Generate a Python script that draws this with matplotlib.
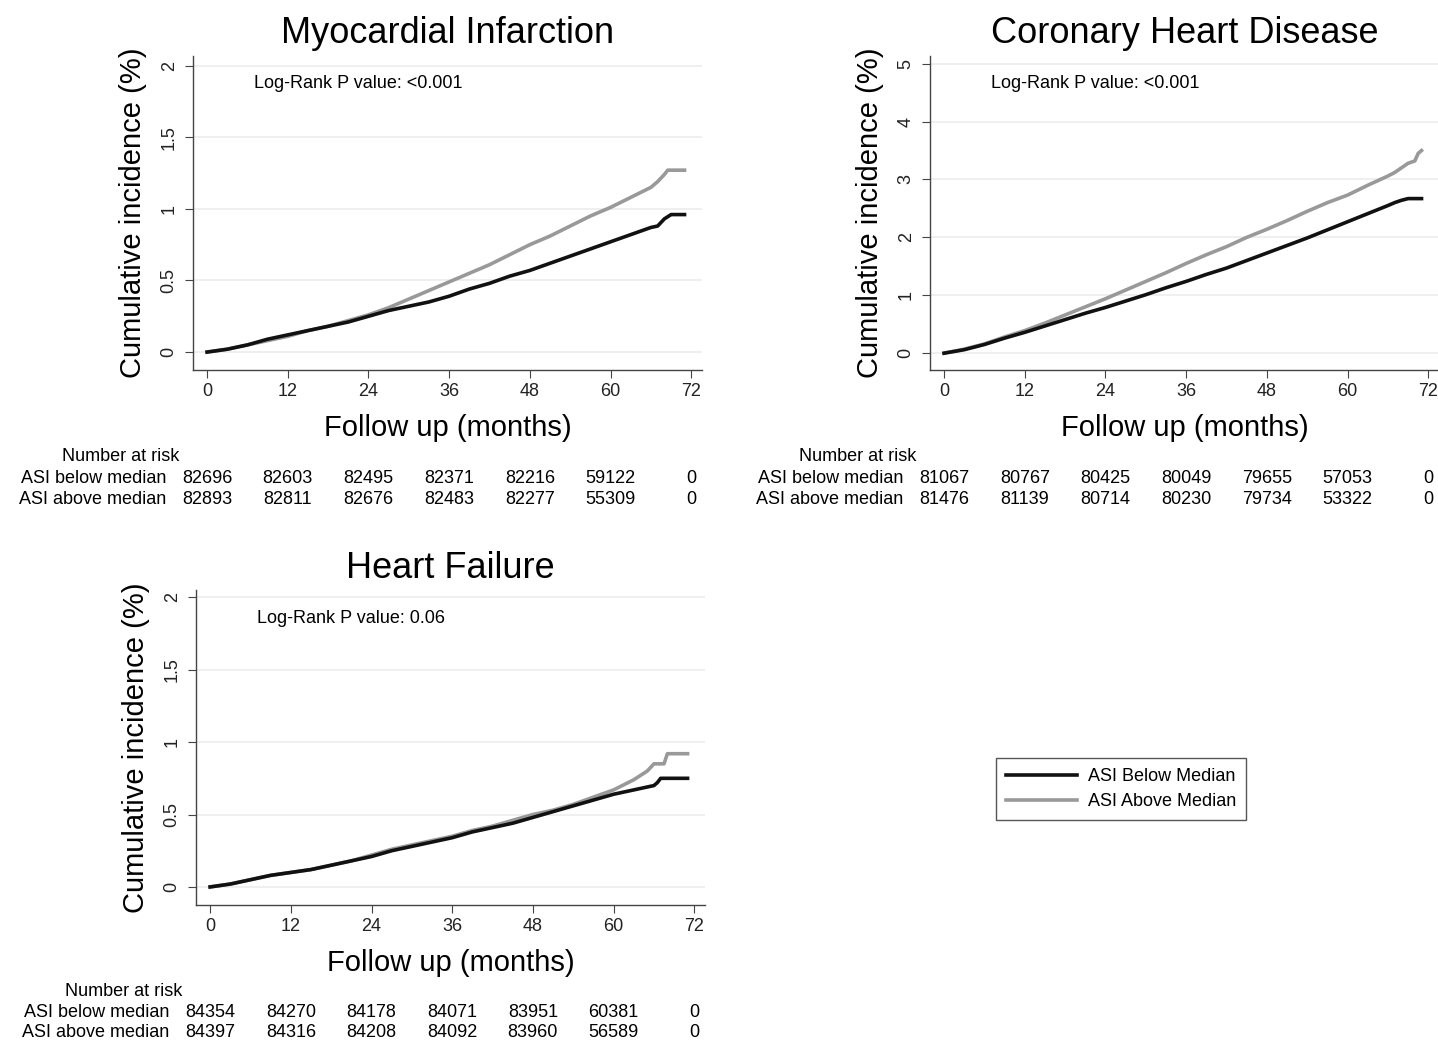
import matplotlib
matplotlib.use("Agg")
import matplotlib.pyplot as plt
import matplotlib.transforms as mtransforms
from matplotlib.lines import Line2D

plt.rcParams["font.family"] = ["Liberation Sans", "DejaVu Sans"]

# ---- data ----
# Myocardial infarction
mi_t_below = [0, 3, 6, 9, 12, 15, 18, 21, 24, 27, 30, 33, 36, 39, 42, 45, 48, 51, 54, 57, 60, 63, 66, 67, 68, 69, 71]
mi_below = [0, 0.02, 0.05, 0.09, 0.12, 0.15, 0.18, 0.21, 0.25, 0.29, 0.32, 0.35, 0.39, 0.44, 0.48, 0.53, 0.57,
            0.62, 0.67, 0.72, 0.77, 0.82, 0.87, 0.88, 0.93, 0.96, 0.96]
mi_t_above = [0, 3, 6, 9, 12, 15, 18, 21, 24, 27, 30, 33, 36, 39, 42, 45, 48, 51, 54, 57, 60, 63, 66, 67, 68, 68.5, 71]
mi_above = [0, 0.02, 0.05, 0.08, 0.11, 0.15, 0.18, 0.22, 0.26, 0.31, 0.37, 0.43, 0.49, 0.55, 0.61, 0.68, 0.75,
            0.81, 0.88, 0.95, 1.01, 1.08, 1.15, 1.19, 1.24, 1.27, 1.27]

# Coronary heart disease
chd_t_below = [0, 3, 6, 9, 12, 15, 18, 21, 24, 27, 30, 33, 36, 39, 42, 45, 48, 51, 54, 57, 60, 63, 66, 67, 68, 69, 71]
chd_below = [0, 0.06, 0.15, 0.26, 0.36, 0.47, 0.58, 0.69, 0.79, 0.9, 1.01, 1.13, 1.24, 1.36, 1.47, 1.6, 1.73,
             1.86, 1.99, 2.13, 2.27, 2.41, 2.55, 2.6, 2.64, 2.67, 2.67]
chd_t_above = [0, 3, 6, 9, 12, 15, 18, 21, 24, 27, 30, 33, 36, 39, 42, 45, 48, 51, 54, 57, 60, 63, 66, 67, 68,
               69, 70, 70.5, 71]
chd_above = [0, 0.07, 0.16, 0.28, 0.39, 0.52, 0.66, 0.8, 0.94, 1.09, 1.24, 1.39, 1.55, 1.7, 1.84, 2.0, 2.14,
             2.29, 2.45, 2.6, 2.73, 2.9, 3.06, 3.12, 3.2, 3.28, 3.32, 3.45, 3.5]

# Heart failure
hf_t_below = [0, 3, 6, 9, 12, 15, 18, 21, 24, 27, 30, 33, 36, 39, 42, 45, 48, 51, 54, 57, 60, 63, 66, 66.5, 67, 71]
hf_below = [0, 0.02, 0.05, 0.08, 0.1, 0.12, 0.15, 0.18, 0.21, 0.25, 0.28, 0.31, 0.34, 0.38, 0.41, 0.44, 0.48,
            0.52, 0.56, 0.6, 0.64, 0.67, 0.7, 0.72, 0.75, 0.75]
hf_t_above = [0, 3, 6, 9, 12, 15, 18, 21, 24, 27, 30, 33, 36, 39, 42, 45, 48, 51, 54, 57, 60, 63, 65, 66, 67.5,
              68, 71]
hf_above = [0, 0.02, 0.05, 0.08, 0.1, 0.12, 0.15, 0.18, 0.22, 0.26, 0.29, 0.32, 0.35, 0.39, 0.42, 0.46, 0.5,
            0.53, 0.57, 0.62, 0.67, 0.74, 0.8, 0.85, 0.85, 0.92, 0.92]

# number at risk
risk_months = [0, 12, 24, 36, 48, 60, 72]
mi_risk_below = [82696, 82603, 82495, 82371, 82216, 59122, 0]
mi_risk_above = [82893, 82811, 82676, 82483, 82277, 55309, 0]
chd_risk_below = [81067, 80767, 80425, 80049, 79655, 57053, 0]
chd_risk_above = [81476, 81139, 80714, 80230, 79734, 53322, 0]
hf_risk_below = [84354, 84270, 84178, 84071, 83951, 60381, 0]
hf_risk_above = [84397, 84316, 84208, 84092, 83960, 56589, 0]

x_ticks = [0, 12, 24, 36, 48, 60, 72]
y_ticks_small = [0, 0.5, 1, 1.5, 2]
y_labels_small = ["0", "0.5", "1", "1.5", "2"]
y_ticks_chd = [0, 1, 2, 3, 4, 5]
y_labels_chd = ["0", "1", "2", "3", "4", "5"]

BLACK = "#111111"
GRAY = "#999999"

fig = plt.figure(figsize=(14.38, 10.41), dpi=100)


def panel(rect, title, t_b, y_b, t_a, y_a, ylim, yticks, ylabels, pval, risk_b, risk_a, risk_y):
    ax = fig.add_axes(rect)
    ax.plot(t_b, y_b, color=BLACK, lw=2.6, zorder=3)
    ax.plot(t_a, y_a, color=GRAY, lw=2.6, zorder=2)
    ax.set_xlim(-2.1, 73.6)
    ax.set_ylim(*ylim)
    ax.set_xticks(x_ticks)
    ax.set_yticks(yticks)
    ax.set_yticklabels(ylabels, rotation=90, va="center")
    ax.tick_params(labelsize=13, length=6, color="#444444", labelcolor="#222222")
    ax.tick_params(axis="y", pad=5)
    ax.grid(axis="y", color="#ececec", lw=1.2)
    ax.set_axisbelow(True)
    for s in ["top", "right"]:
        ax.spines[s].set_visible(False)
    for s in ["left", "bottom"]:
        ax.spines[s].set_color("#444444")
        ax.spines[s].set_linewidth(1.0)
    ax.set_title(title, fontsize=26, pad=9)
    ax.set_xlabel("Follow up (months)", fontsize=21, labelpad=10)
    ax.set_ylabel("Cumulative incidence (%)", fontsize=21, labelpad=10)
    ax.text(0.12, 0.91, "Log-Rank P value: " + pval, transform=ax.transAxes, fontsize=13, va="center")

    # number at risk table under the axis
    tr = mtransforms.blended_transform_factory(ax.transData, fig.transFigure)
    tra = mtransforms.blended_transform_factory(ax.transAxes, fig.transFigure)
    fig.text(-0.142, risk_y[0], "Number at risk", transform=tra, fontsize=13, ha="center", va="center")
    fig.text(-0.053, risk_y[1], "ASI below median", transform=tra, fontsize=13, ha="right", va="center")
    fig.text(-0.053, risk_y[2], "ASI above median", transform=tra, fontsize=13, ha="right", va="center")
    for m, nb, na in zip(risk_months, risk_b, risk_a):
        fig.text(m, risk_y[1], str(nb), transform=tr, fontsize=13, ha="center", va="center")
        fig.text(m, risk_y[2], str(na), transform=tr, fontsize=13, ha="center", va="center")
    return ax


panel([0.1342, 0.6446, 0.354, 0.302], "Myocardial Infarction", mi_t_below, mi_below, mi_t_above, mi_above,
      (-0.125, 2.07), y_ticks_small, y_labels_small, "<0.001",
      mi_risk_below, mi_risk_above, [0.561, 0.5405, 0.5205])
panel([0.6467, 0.6446, 0.354, 0.302], "Coronary Heart Disease", chd_t_below, chd_below, chd_t_above, chd_above,
      (-0.29, 5.14), y_ticks_chd, y_labels_chd, "<0.001",
      chd_risk_below, chd_risk_above, [0.561, 0.5405, 0.5205])
panel([0.1363, 0.1306, 0.354, 0.3026], "Heart Failure", hf_t_below, hf_below, hf_t_above, hf_above,
      (-0.125, 2.05), y_ticks_small, y_labels_small, "0.06",
      hf_risk_below, hf_risk_above, [0.048, 0.0278, 0.0078])

handles = [Line2D([], [], color=BLACK, lw=2.6), Line2D([], [], color=GRAY, lw=2.6)]
leg = fig.legend(handles, ["ASI Below Median", "ASI Above Median"], loc="center",
                 bbox_to_anchor=(0.7796, 0.2421), fontsize=13, handlelength=3.9,
                 labelspacing=0.45, fancybox=False, framealpha=1, edgecolor="#555555",
                 borderpad=0.55, handletextpad=0.6)
leg.get_frame().set_linewidth(1.0)

fig.savefig("out.png", dpi=100, facecolor="white")
